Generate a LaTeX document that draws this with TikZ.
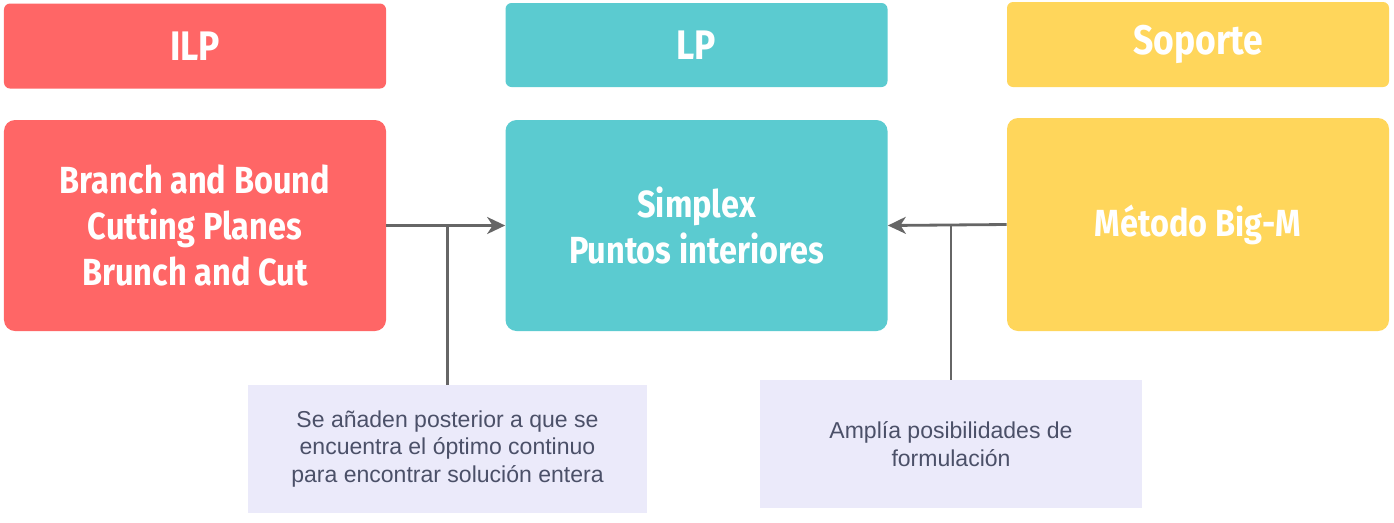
\documentclass[tikz,border=0pt]{standalone}
\usepackage{fontspec}
\setmainfont{Liberation Sans}
\newfontfamily\headfont[FakeStretch=0.86]{Fira Sans}
\usetikzlibrary{arrows.meta}
\definecolor{ilpred}{HTML}{FF6666}
\definecolor{lpteal}{HTML}{5BCBD0}
\definecolor{supyellow}{HTML}{FFD65B}
\definecolor{notefill}{HTML}{EBEAFA}
\definecolor{notetext}{HTML}{4B5068}
\definecolor{linkgray}{HTML}{666666}
\tikzset{
  {head box/.style} ={rectangle, rounded corners=0.12cm, fill=#1,
                text=white, minimum width=7.64cm, minimum height=1.7cm,
                font=\headfont\bfseries\fontsize{23.5}{28}\selectfont},
  {body box/.style} ={head box=#1, minimum height=4.22cm, rounded corners=0.22cm,
                align=center, font=\headfont\bfseries\fontsize{21.5}{26.2}\selectfont},
  {note box/.style} ={rectangle, fill=notefill, text=notetext, align=center,
                minimum height=2.56cm, font=\fontsize{13.1}{15.9}\selectfont},
  {link/.style} ={draw=linkgray, line width=1.6pt},
  >={Stealth[length=3.6mm,width=3.4mm,inset=1.1mm]},
}
\begin{document}
\begin{tikzpicture}
\useasboundingbox (0,0) rectangle (27.88,-10.44);
% column heads
\node[head box=ilpred] (ilphead) at (3.90,-0.92) {ILP};
\node[head box=lpteal, minimum height=1.68cm] (lphead) at (13.93,-0.90) {LP};
\node[head box=supyellow] (suphead) at (23.96,-0.89) {Soporte};
% methods
\node[body box=ilpred] (ilp) at (3.90,-4.51)
  {Branch and Bound\\Cutting Planes\\Brunch and Cut};
\node[body box=lpteal] (lp) at (13.93,-4.51) {Simplex\\Puntos interiores};
\node[body box=supyellow, minimum height=4.26cm] (sup) at (23.96,-4.49) {Método Big-M};
% notes
\node[note box, minimum width=7.98cm] (ilpnote) at (8.95,-8.98)
  {Se añaden posterior a que se\\encuentra el óptimo continuo\\para encontrar solución entera};
\node[note box, minimum width=7.64cm] (supnote) at (19.02,-8.88)
  {Amplía posibilidades de\\formulación};
% links
\draw[link,->] (ilp.east) -- (lp.west);
\draw[link] (ilpnote.north) -- (ilpnote.north |- ilp.east);
\draw[link,->] (sup.west) -- (lp.east);
\draw[link] (supnote.north) -- (supnote.north |- sup.west);
\end{tikzpicture}
\end{document}
